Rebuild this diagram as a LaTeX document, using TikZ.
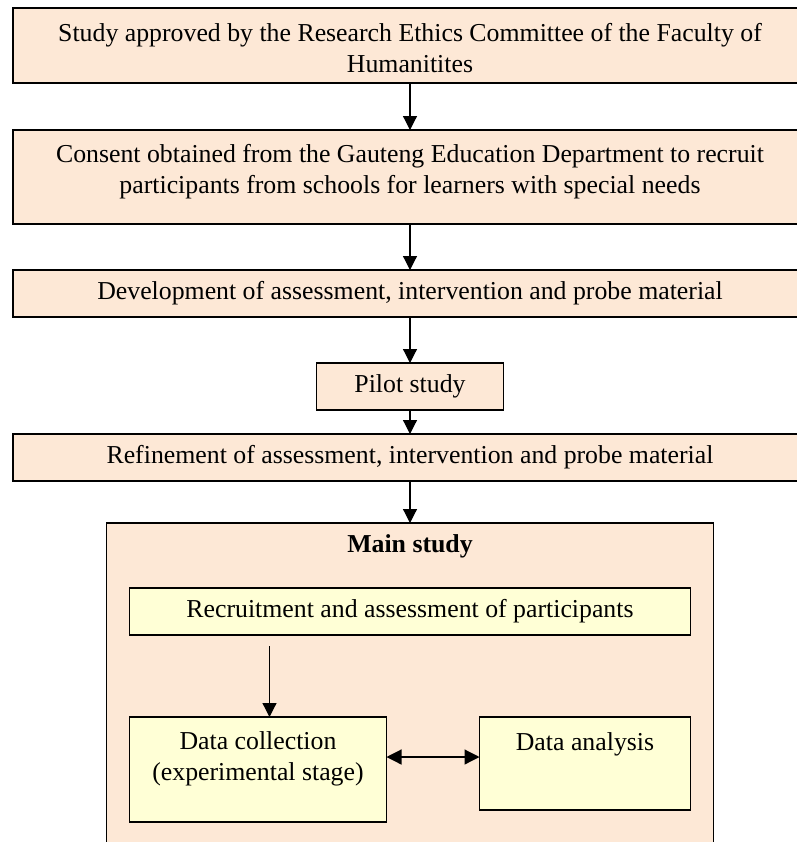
\documentclass[tikz,border=0pt]{standalone}
\usepackage{fontspec}
\setmainfont{Liberation Serif}
\usepackage{tikz}
\usetikzlibrary{arrows.meta,positioning}
\definecolor{stpeach}{RGB}{253,232,214}
\definecolor{stcream}{RGB}{255,255,214}
\tikzset{
  stage/.style={rectangle, draw=black, fill=stpeach, line width=0.8pt, inner sep=0pt, outer sep=0pt,
    minimum width=397pt, minimum height=23.5pt, align=center,
    font=\fontsize{12.9}{15.5}\selectfont},
  mainbox/.style={stage, minimum width=303.5pt, text height=14.5pt, text depth=160.5pt},
  task/.style={stage, fill=stcream},
  arrow/.style={line width=0.6pt, -{Triangle[length=7pt,width=7pt]}},
  twoway/.style={line width=0.6pt, {Triangle[length=7.5pt,width=7.5pt]}-{Triangle[length=7.5pt,width=7.5pt]}}
}
\begin{document}
\begin{tikzpicture}[x=0.5pt,y=-0.5pt]
\useasboundingbox (0,0) rectangle (797,842);
\clip (0,0) rectangle (797,842);

% Preparation stages
\node (approve) [stage, text height=32pt, text depth=5.5pt] at (410,45.5) {Study approved by the Research Ethics Committee of the Faculty of\\Humanitites};
\node (consent) [stage, text height=31.5pt, text depth=15.5pt, below=23.5pt of approve] {Consent obtained from the Gauteng Education Department to recruit\\participants from schools for learners with special needs};
\node (develop) [stage, below=23pt of consent] {Development of assessment, intervention and probe material};
\node (pilot) [stage, minimum width=93.5pt, below=23pt of develop] {Pilot study};
\node (refine) [stage, below=12pt of pilot] {Refinement of assessment, intervention and probe material};

% Main study
\node (main) [mainbox, below=21pt of refine] {\textbf{Main study}};
\node (recruit) [task, minimum width=280.5pt, below=32.5pt of main.north] {Recruitment and assessment of participants};
\node (collect) [task, minimum width=128.5pt, text height=31.5pt, text depth=21pt, below=41pt of recruit.south west, anchor=north west] {Data collection\\(experimental stage)};
\node (analysis) [task, minimum width=105.5pt, text height=16.5pt, text depth=30pt, below=41pt of recruit.south east, anchor=north east] {Data analysis};

% Arrows
\draw[arrow] (approve) -- (consent);
\draw[arrow] (consent) -- (develop);
\draw[arrow] (develop) -- (pilot);
\draw[arrow] (pilot) -- (refine);
\draw[arrow] (refine) -- (main);
\coordinate (entry) at ([xshift=5.75pt]collect.north);
\draw[arrow, shorten <=5.5pt] (recruit.south -| entry) -- (entry);
\coordinate (link) at ([yshift=6.25pt]collect.east);
\draw[twoway] (link) -- (link -| analysis.west);
\end{tikzpicture}
\end{document}
